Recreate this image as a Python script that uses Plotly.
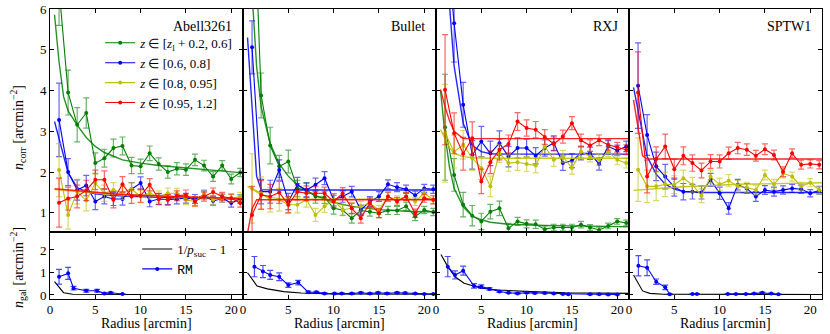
import plotly.graph_objects as go
from plotly.subplots import make_subplots

# ---------------- data ----------------
CLUSTERS = ["Abell3261", "Bullet", "RXJ", "SPTW1"]
R = [1, 2, 3, 4, 5, 6, 7, 8, 9, 10, 11, 12, 13, 14, 15, 16, 17, 18, 19, 20, 21]
RMOD = [0.5, 1, 1.5, 2, 3, 4, 5, 6, 8, 10, 12, 15, 18, 21.3]
XTICKS = [0, 5, 10, 15, 20]
YTICKS_TOP = [1, 2, 3, 4, 5, 6]
YTICKS_BOT = [0, 1, 2]

# Abell3261
A_g = [6.5, 3.95, 3.16, 3.45, 2.22, 2.34, 2.59, 2.64, 2.16, 2.14, 2.46, 2.2, 2.0, 2.08, 2.06, 2.3, 2.16, 1.89, 2.16, 1.83, 1.99]
A_g_err = [0.9, 0.55, 0.42, 0.37, 0.25, 0.22, 0.22, 0.22, 0.2, 0.18, 0.18, 0.15, 0.15, 0.15, 0.14, 0.14, 0.13, 0.12, 0.12, 0.12, 0.1]
A_b = [3.28, 2.0, 1.56, 1.67, 1.28, 1.4, 1.34, 1.34, 1.58, 1.73, 1.28, 1.34, 1.32, 1.34, 1.36, 1.34, 1.44, 1.29, 1.36, 1.24, 1.34]
A_b_err = [0.9, 0.33, 0.25, 0.25, 0.2, 0.18, 0.16, 0.15, 0.16, 0.15, 0.13, 0.13, 0.12, 0.12, 0.12, 0.11, 0.1, 0.1, 0.1, 0.1, 0.1]
A_y = [2.05, 0.95, 1.52, 1.3, 1.73, 1.48, 1.56, 1.5, 1.58, 1.4, 1.48, 1.4, 1.48, 1.48, 1.32, 1.28, 1.46, 1.32, 1.36, 1.36, 1.4]
A_y_err = [0.65, 0.35, 0.3, 0.25, 0.22, 0.2, 0.18, 0.17, 0.16, 0.15, 0.14, 0.14, 0.13, 0.12, 0.12, 0.12, 0.11, 0.11, 0.1, 0.1, 0.1]
A_r = [1.25, 1.35, 1.4, 1.55, 1.81, 1.81, 1.32, 1.7, 1.4, 1.42, 1.69, 1.34, 1.32, 1.42, 1.44, 1.28, 1.4, 1.51, 1.4, 1.36, 1.24]
A_r_err = [0.6, 0.28, 0.28, 0.25, 0.24, 0.22, 0.2, 0.19, 0.17, 0.16, 0.15, 0.14, 0.13, 0.12, 0.12, 0.11, 0.11, 0.1, 0.1, 0.1, 0.1]
A_g_mod = [5.86, 4.7, 3.85, 3.5, 3.15, 2.85, 2.63, 2.48, 2.3, 2.22, 2.16, 2.1, 2.04, 1.98]
A_b_mod = [3.24, 2.8, 2.38, 1.98, 1.62, 1.52, 1.47, 1.44, 1.41, 1.39, 1.38, 1.36, 1.35, 1.34]
A_y_mod = [1.57, 1.56, 1.55, 1.54, 1.52, 1.5, 1.49, 1.47, 1.45, 1.43, 1.41, 1.39, 1.37, 1.36]
A_r_mod = [1.59, 1.58, 1.57, 1.56, 1.54, 1.52, 1.5, 1.48, 1.45, 1.43, 1.41, 1.39, 1.37, 1.35]

# Bullet
B_g = [10.0, 3.88, 2.65, 2.14, 2.26, 1.6, 1.56, 1.4, 1.38, 1.11, 1.07, 0.87, 1.06, 1.03, 0.99, 1.06, 1.06, 1.16, 0.91, 1.07, 1.02]
B_g_err = [1.0, 0.55, 0.45, 0.27, 0.28, 0.2, 0.18, 0.16, 0.15, 0.14, 0.13, 0.12, 0.12, 0.11, 0.11, 0.1, 0.1, 0.1, 0.1, 0.09, 0.09]
B_b = [5.06, 1.52, 1.52, 2.05, 1.28, 1.69, 1.56, 1.69, 1.85, 1.32, 1.4, 1.52, 1.07, 1.28, 1.4, 1.7, 1.63, 1.58, 1.43, 1.6, 1.58]
B_b_err = [0.65, 0.3, 0.28, 0.25, 0.2, 0.18, 0.17, 0.16, 0.16, 0.15, 0.14, 0.13, 0.12, 0.12, 0.12, 0.11, 0.11, 0.1, 0.1, 0.1, 0.1]
B_y = [1.6, 1.48, 1.32, 1.32, 1.2, 1.2, 1.32, 0.95, 1.16, 1.32, 1.07, 1.11, 1.16, 1.24, 1.07, 1.4, 1.32, 1.4, 1.28, 1.48, 1.32]
B_y_err = [0.85, 0.4, 0.3, 0.28, 0.2, 0.2, 0.18, 0.16, 0.15, 0.15, 0.14, 0.13, 0.12, 0.12, 0.11, 0.11, 0.1, 0.1, 0.1, 0.1, 0.1]
B_r = [0.95, 1.44, 1.4, 1.5, 1.2, 1.52, 1.48, 1.48, 1.48, 1.28, 1.48, 1.11, 0.87, 1.24, 0.99, 1.4, 1.28, 1.4, 0.99, 1.36, 1.32]
B_r_err = [0.7, 0.35, 0.3, 0.27, 0.2, 0.2, 0.18, 0.16, 0.15, 0.15, 0.14, 0.13, 0.12, 0.12, 0.11, 0.11, 0.1, 0.1, 0.1, 0.1, 0.1]
B_g_mod = [12.0, 6.4, 4.6, 3.6, 2.7, 2.2, 1.9, 1.68, 1.42, 1.26, 1.16, 1.08, 1.04, 1.02]
B_b_mod = [5.3, 3.5, 1.9, 1.57, 1.56, 1.56, 1.56, 1.56, 1.56, 1.56, 1.56, 1.56, 1.56, 1.56]
B_y_mod = [1.65, 1.58, 1.5, 1.45, 1.38, 1.35, 1.34, 1.34, 1.33, 1.33, 1.33, 1.33, 1.33, 1.33]
B_r_mod = [0.5, 1.1, 1.32, 1.32, 1.32, 1.32, 1.32, 1.32, 1.32, 1.32, 1.32, 1.32, 1.32, 1.32]

# RXJ
X_g = [3.1, 1.93, 1.2, 0.93, 0.79, 1.03, 1.11, 0.62, 0.79, 0.73, 0.72, 0.6, 0.64, 0.64, 0.64, 0.71, 0.64, 0.58, 0.68, 0.79, 0.75]
X_g_err = [1.3, 0.4, 0.3, 0.25, 0.2, 0.18, 0.18, 0.12, 0.1, 0.1, 0.1, 0.08, 0.08, 0.08, 0.08, 0.08, 0.07, 0.07, 0.07, 0.07, 0.07]
X_b = [8.0, 5.65, 3.65, 2.42, 2.75, 2.46, 2.71, 2.38, 2.59, 2.59, 2.4, 2.59, 2.71, 2.22, 2.28, 2.46, 2.46, 2.2, 2.63, 2.53, 2.63]
X_b_err = [1.5, 0.95, 0.55, 0.35, 0.37, 0.3, 0.3, 0.25, 0.25, 0.22, 0.2, 0.2, 0.18, 0.18, 0.17, 0.16, 0.15, 0.15, 0.14, 0.13, 0.13]
X_y = [2.95, 2.5, 2.67, 2.34, 2.1, 1.65, 2.46, 2.22, 2.24, 2.2, 2.16, 2.63, 2.3, 2.38, 2.1, 2.5, 2.38, 2.3, 2.5, 2.3, 2.22]
X_y_err = [1.2, 0.4, 0.35, 0.3, 0.28, 0.25, 0.22, 0.2, 0.2, 0.18, 0.18, 0.17, 0.16, 0.15, 0.15, 0.14, 0.13, 0.13, 0.12, 0.12, 0.12]
X_r = [4.02, 2.95, 2.45, 2.83, 1.77, 2.24, 2.55, 2.69, 3.24, 3.08, 3.04, 2.86, 2.69, 2.87, 3.2, 2.78, 2.65, 2.78, 2.67, 2.61, 2.55]
X_r_err = [1.35, 0.5, 0.4, 0.4, 0.3, 0.28, 0.25, 0.22, 0.22, 0.2, 0.2, 0.18, 0.17, 0.16, 0.16, 0.15, 0.14, 0.13, 0.13, 0.12, 0.12]
X_g_mod = [4.0, 2.9, 2.1, 1.6, 1.15, 0.92, 0.83, 0.77, 0.72, 0.7, 0.69, 0.68, 0.67, 0.66]
X_b_mod = [9.0, 7.5, 6.2, 4.6, 3.2, 2.65, 2.5, 2.45, 2.44, 2.44, 2.44, 2.44, 2.44, 2.44]
X_y_mod = [3.04, 2.8, 2.6, 2.46, 2.38, 2.35, 2.34, 2.34, 2.34, 2.34, 2.34, 2.34, 2.34, 2.34]
X_r_mod = [4.03, 3.6, 3.25, 3.0, 2.82, 2.82, 2.82, 2.82, 2.82, 2.82, 2.82, 2.82, 2.82, 2.82]

# SPTW1
S_b = [4.12, 2.91, 2.14, 1.89, 1.63, 1.52, 1.52, 1.5, 1.81, 1.48, 1.11, 1.69, 1.6, 1.4, 1.56, 1.52, 1.56, 1.6, 1.58, 1.48, 1.55]
S_b_err = [1.05, 0.5, 0.35, 0.3, 0.22, 0.2, 0.18, 0.16, 0.16, 0.15, 0.14, 0.13, 0.12, 0.12, 0.11, 0.11, 0.1, 0.1, 0.1, 0.09, 0.09]
S_y = [2.06, 1.65, 1.65, 1.7, 1.69, 1.85, 1.69, 1.42, 1.89, 1.7, 1.79, 1.65, 1.62, 1.56, 1.93, 1.7, 1.97, 1.89, 1.65, 1.74, 1.56]
S_y_err = [0.78, 0.4, 0.35, 0.3, 0.22, 0.2, 0.18, 0.17, 0.16, 0.15, 0.15, 0.14, 0.13, 0.12, 0.12, 0.12, 0.11, 0.11, 0.1, 0.1, 0.1]
S_r = [3.95, 1.89, 2.32, 2.63, 2.07, 2.4, 2.22, 2.04, 2.26, 2.26, 2.46, 2.59, 2.55, 2.4, 2.56, 2.42, 2.01, 2.46, 2.18, 2.2, 2.18]
S_r_err = [1.0, 0.4, 0.3, 0.3, 0.25, 0.22, 0.2, 0.18, 0.17, 0.16, 0.15, 0.14, 0.14, 0.13, 0.13, 0.12, 0.12, 0.11, 0.11, 0.1, 0.1]
S_b_mod = [4.08, 3.5, 2.9, 2.38, 1.95, 1.7, 1.58, 1.52, 1.5, 1.5, 1.5, 1.5, 1.5, 1.5]
S_y_mod = [1.55, 1.56, 1.57, 1.58, 1.6, 1.61, 1.62, 1.64, 1.66, 1.68, 1.7, 1.71, 1.73, 1.74]
S_r_mod = [3.77, 3.1, 2.4, 2.32, 2.32, 2.32, 2.32, 2.32, 2.32, 2.32, 2.32, 2.32, 2.32, 2.32]

# bottom row: RM galaxies and 1/p_suc - 1
A_rm_x = [1.0, 2.0, 2.6, 4.0, 5.2, 6.0, 6.7, 8.0]
A_rm = [0.81, 0.96, 0.3, 0.19, 0.19, 0.07, 0.1, 0.04]
A_rm_err = [0.33, 0.27, 0.08, 0.06, 0.06, 0.03, 0.03, 0.02]
A_ps_x = [0.5, 1.5, 2.5, 5, 10, 21.3]
A_ps = [0.59, 0.1, 0.03, 0.02, 0.02, 0.02]

B_rm_x = [1.26, 2.2, 3.0, 4.0, 5.0, 6.1, 7.2, 8.1, 9.0, 10.1, 10.9, 12.0, 13.0, 14.0, 14.9, 15.9, 17.0, 17.9, 19.0, 20.0, 21.0]
B_rm = [1.26, 1.04, 0.89, 0.81, 0.44, 0.55, 0.12, 0.12, 0.07, 0.06, 0.06, 0.06, 0.1, 0.06, 0.1, 0.07, 0.1, 0.09, 0.06, 0.04, 0.04]
B_rm_err = [0.45, 0.27, 0.2, 0.17, 0.1, 0.1, 0.05, 0.04, 0.03, 0.03, 0.03, 0.03, 0.03, 0.03, 0.03, 0.03, 0.03, 0.03, 0.02, 0.02, 0.02]
B_ps_x = [0.5, 1.55, 2.7, 4.5, 6.4, 10, 21.3]
B_ps = [0.99, 0.4, 0.27, 0.15, 0.09, 0.04, 0.03]

X_rm_x = [1.3, 2.1, 3.0, 4.2, 5.0, 5.9, 7.0, 8.0, 9.0, 10.0, 10.9, 12.0, 13.0, 14.0, 14.6, 17.0, 18.0, 19.0, 20.0]
X_rm = [1.26, 0.89, 1.08, 0.4, 0.37, 0.27, 0.15, 0.1, 0.07, 0.1, 0.09, 0.09, 0.07, 0.04, 0.03, 0.03, 0.03, 0.02, 0.02]
X_rm_err = [0.45, 0.18, 0.2, 0.1, 0.08, 0.06, 0.04, 0.03, 0.03, 0.03, 0.03, 0.03, 0.02, 0.02, 0.02, 0.02, 0.02, 0.02, 0.02]
X_ps_x = [0.55, 1.3, 2.1, 3.1, 5.0, 6.9, 10.5, 14.3, 21.3]
X_ps = [1.8, 1.26, 0.81, 0.52, 0.3, 0.22, 0.15, 0.1, 0.07]

S_rm_x = [1.04, 2.0, 3.0, 4.0, 4.5, None, 7.0, 7.5, None, 10.9, 11.8, 12.9, 13.8, 14.7, 15.7, 16.5]
S_rm = [1.3, 1.21, 0.59, 0.34, 0.03, None, 0.04, 0.04, None, 0.04, 0.04, 0.04, 0.06, 0.1, 0.06, 0.03]
S_rm_err = [0.45, 0.35, 0.12, 0.1, 0.02, 0, 0.02, 0.02, 0, 0.02, 0.02, 0.02, 0.02, 0.03, 0.02, 0.02]
S_ps_x = [0.5, 1.5, 2.3, 3.8, 21.3]
S_ps = [0.89, 0.18, 0.07, 0.03, 0.02]

LEG_NAMES = [
    "<i>z</i> ∈ [<i>z</i><sub>l</sub> + 0.2, 0.6]",
    "<i>z</i> ∈ [0.6, 0.8]",
    "<i>z</i> ∈ [0.8, 0.95]",
    "<i>z</i> ∈ [0.95, 1.2]",
]
COLORS = ["#008000", "#0000ff", "#bfbf00", "#ff0000"]
ERRCOLORS = ["rgba(0,128,0,0.6)", "rgba(0,0,255,0.6)", "rgba(191,191,0,0.6)", "rgba(255,0,0,0.6)"]

# ---------------- assemble ----------------
top = [
    [(A_g, A_g_err, A_g_mod), (A_b, A_b_err, A_b_mod), (A_y, A_y_err, A_y_mod), (A_r, A_r_err, A_r_mod)],
    [(B_g, B_g_err, B_g_mod), (B_b, B_b_err, B_b_mod), (B_y, B_y_err, B_y_mod), (B_r, B_r_err, B_r_mod)],
    [(X_g, X_g_err, X_g_mod), (X_b, X_b_err, X_b_mod), (X_y, X_y_err, X_y_mod), (X_r, X_r_err, X_r_mod)],
    [None, (S_b, S_b_err, S_b_mod), (S_y, S_y_err, S_y_mod), (S_r, S_r_err, S_r_mod)],
]
bottom = [
    (A_rm_x, A_rm, A_rm_err, A_ps_x, A_ps),
    (B_rm_x, B_rm, B_rm_err, B_ps_x, B_ps),
    (X_rm_x, X_rm, X_rm_err, X_ps_x, X_ps),
    (S_rm_x, S_rm, S_rm_err, S_ps_x, S_ps),
]

FONT = "Liberation Serif, Times New Roman, serif"

fig = make_subplots(rows=2, cols=4, shared_xaxes=True, shared_yaxes=True,
                    horizontal_spacing=0, vertical_spacing=0,
                    row_heights=[0.769, 0.231])

for c in range(4):
    for k in range(4):
        s = top[c][k]
        if s is None:
            continue
        vals, errs, mod = s
        fig.add_trace(go.Scatter(
            x=RMOD, y=mod, mode="lines", line=dict(color=COLORS[k], width=1.4),
            opacity=0.85, showlegend=False, hoverinfo="skip"), row=1, col=c + 1)
        fig.add_trace(go.Scatter(
            x=R, y=vals, mode="lines+markers", name=LEG_NAMES[k],
            line=dict(color=COLORS[k], width=1.1),
            marker=dict(color=COLORS[k], size=4),
            error_y=dict(type="data", array=errs, color=ERRCOLORS[k], thickness=1.2, width=3),
            showlegend=(c == 0), legend="legend", legendgroup=f"g{k}"), row=1, col=c + 1)
    rx, rv, re, px, pv = bottom[c]
    fig.add_trace(go.Scatter(
        x=px, y=pv, mode="lines", name="1/<i>p</i><sub>suc</sub> − 1",
        line=dict(color="black", width=1.1),
        showlegend=(c == 0), legend="legend2", legendgroup="ps"), row=2, col=c + 1)
    fig.add_trace(go.Scatter(
        x=rx, y=rv, mode="lines+markers",
        name="<span style=\"font-family:'Liberation Mono', monospace\">RM</span>",
        line=dict(color="#0000ff", width=1.1), marker=dict(color="#0000ff", size=4),
        error_y=dict(type="data", array=re, color="rgba(0,0,255,0.7)", thickness=1.2, width=3),
        connectgaps=False,
        showlegend=(c == 0), legend="legend2", legendgroup="rm"), row=2, col=c + 1)

axis_common = dict(showline=True, linecolor="black", linewidth=1, mirror="ticks",
                   ticks="inside", ticklen=4, tickcolor="black", showgrid=False,
                   zeroline=False, automargin=False,
                   tickfont=dict(family=FONT, size=13, color="black"))

for c in range(4):
    fig.update_xaxes(range=[0, 21.3], tickvals=XTICKS, row=1, col=c + 1, **axis_common)
    fig.update_xaxes(range=[0, 21.3], tickvals=XTICKS, row=2, col=c + 1,
                     ticklabelstandoff=-2, **axis_common)
    fig.update_yaxes(range=[0.53, 6], tickvals=YTICKS_TOP, row=1, col=c + 1, **axis_common)
    fig.update_yaxes(range=[-0.18, 2.8], tickvals=YTICKS_BOT, row=2, col=c + 1, **axis_common)

for c, name in enumerate(CLUSTERS):
    xa = "x" if c == 0 else f"x{c + 1}"
    ya = "y" if c == 0 else f"y{c + 1}"
    fig.add_annotation(text=name, x=1, y=1, xref=f"{xa} domain", yref=f"{ya} domain",
                       xanchor="right", yanchor="top", xshift=-9, yshift=-8, showarrow=False,
                       font=dict(family=FONT, size=14, color="black"))
    xb = f"x{c + 5}"
    fig.add_annotation(text="Radius [arcmin]", x=0.5, y=0, xref=f"{xb} domain", yref="paper",
                       xanchor="center", yanchor="middle", yshift=-24, showarrow=False,
                       font=dict(family=FONT, size=14, color="black"))

fig.add_annotation(text="<i>n</i><sub>corr</sub> [arcmin<sup>−2</sup>]", textangle=-90,
                   x=0, y=0.59, xref="paper", yref="paper", xanchor="center", yanchor="middle",
                   xshift=-32, showarrow=False, font=dict(family=FONT, size=14, color="black"))
fig.add_annotation(text="<i>n</i><sub>gal</sub> [arcmin<sup>−2</sup>]", textangle=-90,
                   x=0, y=0.107, xref="paper", yref="paper", xanchor="center", yanchor="middle",
                   xshift=-32, showarrow=False, font=dict(family=FONT, size=14, color="black"))

fig.update_layout(
    width=830, height=334,
    margin=dict(l=50, r=8, t=9, b=35, autoexpand=False),
    paper_bgcolor="white", plot_bgcolor="white",
    font=dict(family=FONT, size=13, color="black"),
    legend=dict(x=0.065, y=0.935, xanchor="left", yanchor="top", bgcolor="rgba(0,0,0,0)",
                font=dict(family=FONT, size=13), tracegroupgap=0, itemwidth=30),
    legend2=dict(x=0.113, y=0.224, xanchor="left", yanchor="top", bgcolor="rgba(0,0,0,0)",
                 font=dict(family=FONT, size=13), tracegroupgap=0, itemwidth=30),
)

# remove the browser's default 8px body margin so the figure sits at the page origin
fig.write_html("out.html", config={"displayModeBar": False},
               post_script="document.body.style.margin='0';document.body.style.overflow='hidden';")
